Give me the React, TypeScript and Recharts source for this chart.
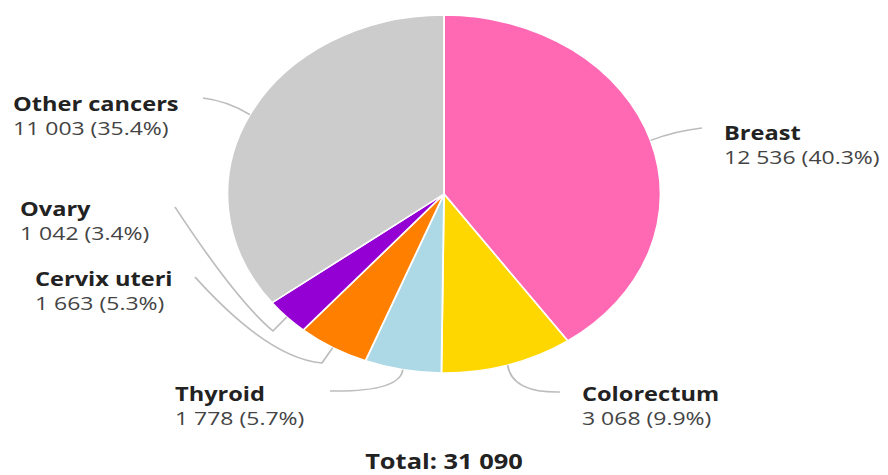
import React from "react";
import { Cell, Pie, PieChart } from "recharts";

// slices, clockwise from 12 o'clock
const sites = ["Breast", "Colorectum", "Thyroid", "Cervix uteri", "Ovary", "Other cancers"];
const cases = [12536, 3068, 1778, 1663, 1042, 11003];
const colors = ["#ff69b4", "#ffd700", "#add8e6", "#ff7f00", "#9400d3", "#cccccc"];

// the source picture is stretched sideways, so the whole chart is drawn
// narrower and then scaled on x
const OUT_W = 888;
const H = 475;
const W = 734;
const SX = OUT_W / W;

// label anchor + leader line shape, in output pixels
type Layout = {
  x: number;
  y: number;
  end: [number, number];
  ctrl: [number, number];
  elbow?: [number, number];
};
const labelLayout: Layout[] = [
  { x: 724, y: 140, end: [702, 128], ctrl: [675, 131] },
  { x: 582, y: 401, end: [560, 392], ctrl: [512, 393] },
  { x: 175, y: 401, end: [330, 391], ctrl: [400, 392] },
  { x: 35, y: 286, end: [195, 277], ctrl: [268, 358], elbow: [322, 363] },
  { x: 20, y: 216, end: [175, 207], ctrl: [236, 300], elbow: [273, 331] },
  { x: 13, y: 111, end: [203, 98], ctrl: [228, 101] },
];

const total = cases.reduce((a, b) => a + b, 0);
const fmt = (n: number) => n.toString().replace(/\B(?=(\d{3})+(?!\d))/g, " ");

const data = sites.map((name, i) => ({ name, value: cases[i] }));

const FONT = "'Open Sans', sans-serif";

const renderLabel = (props: any) => {
  const { cx, cy, midAngle, outerRadius, index } = props;
  const lay = labelLayout[index];
  if (!lay) return null;
  const rad = Math.PI / 180;
  const sx = cx + outerRadius * Math.cos(-midAngle * rad);
  const sy = cy + outerRadius * Math.sin(-midAngle * rad);
  const u = (x: number) => x / SX;
  let d = `M${sx},${sy}`;
  if (lay.elbow) d += ` L${u(lay.elbow[0])},${lay.elbow[1]}`;
  d += ` Q${u(lay.ctrl[0])},${lay.ctrl[1]} ${u(lay.end[0])},${lay.end[1]}`;
  const pct = ((cases[index] / total) * 100).toFixed(1);
  return (
    <g key={`lbl-${index}`}>
      <path d={d} fill="none" stroke="#bdbdbd" strokeWidth={1.5} />
      <text
        x={u(lay.x)}
        y={lay.y}
        fontFamily={FONT}
        fontSize={19.5}
        fontWeight={700}
        fill="#222"
      >
        {sites[index]}
      </text>
      <text x={u(lay.x)} y={lay.y + 24} fontFamily={FONT} fontSize={19} fill="#444">
        {`${fmt(cases[index])} (${pct}%)`}
      </text>
    </g>
  );
};

const App: React.FC = () => {
  return (
    <div
      style={{
        position: "absolute",
        left: 0,
        top: 0,
        width: OUT_W,
        height: H,
        overflow: "hidden",
        background: "#fff",
      }}
    >
      <div
        style={{
          position: "relative",
          width: W,
          height: H,
          transform: `scaleX(${SX})`,
          transformOrigin: "0 0",
        }}
      >
        <PieChart width={W} height={H} margin={{ top: 0, right: 0, bottom: 0, left: 0 }}>
          <Pie
            data={data}
            dataKey="value"
            nameKey="name"
            cx={367}
            cy={194}
            outerRadius={179}
            startAngle={90}
            endAngle={-270}
            stroke="#fff"
            strokeWidth={1.5}
            label={renderLabel}
            labelLine={false}
            isAnimationActive={false}
          >
            {data.map((d, i) => (
              <Cell key={d.name} fill={colors[i]} />
            ))}
          </Pie>
        </PieChart>
        <div
          style={{
            position: "absolute",
            left: 0,
            top: 451,
            width: W,
            textAlign: "center",
            fontFamily: FONT,
            fontWeight: 700,
            fontSize: 21,
            lineHeight: "21px",
            color: "#222",
          }}
        >
          Total: {fmt(total)}
        </div>
      </div>
    </div>
  );
};

export default App;
